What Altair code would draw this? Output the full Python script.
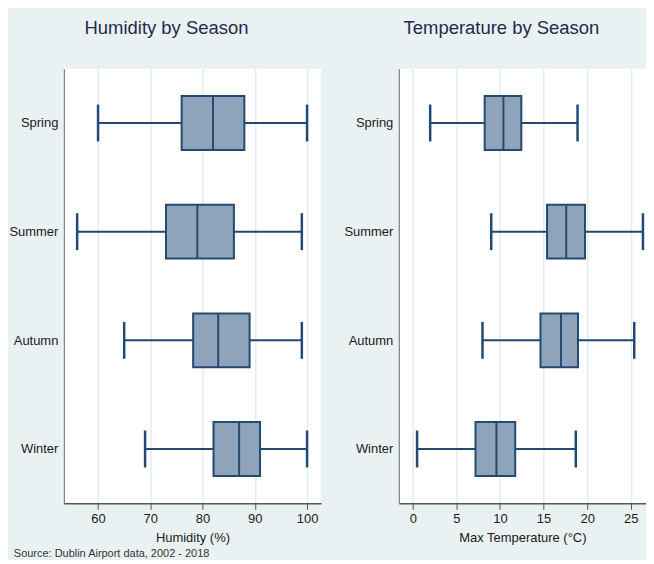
import altair as alt
import pandas as pd

seasons = ["Spring", "Summer", "Autumn", "Winter"]

hum_low = [60, 56, 65, 69]
hum_q1 = [76, 73, 78.2, 82.1]
hum_med = [82, 79, 83, 87]
hum_q3 = [88, 86, 89, 91]
hum_high = [100, 99, 99, 100]
hum_ticks = [60, 70, 80, 90, 100]

temp_low = [2, 9, 8, 0.5]
temp_q1 = [8.25, 15.4, 14.65, 7.2]
temp_med = [10.4, 17.6, 17.0, 9.6]
temp_q3 = [12.45, 19.75, 18.95, 11.75]
temp_high = [18.9, 26.4, 25.4, 18.7]
temp_ticks = [0, 5, 10, 15, 20, 25]

NAVY = "#234A72"
FILL = "#8FA4BA"
BG = "#EAF1F3"
FONT = "Liberation Sans"


def make_df(low, q1, med, q3, high):
    return pd.DataFrame({"season": seasons, "low": low, "q1": q1,
                         "med": med, "q3": q3, "high": high})


def panel(df, domain, ticks, xtitle, title, width, title_dx):
    y = alt.Y("season:N", sort=seasons,
              scale=alt.Scale(type="point", padding=0.5),
              axis=alt.Axis(title=None, ticks=False, labelPadding=6,
                            domainColor="#666666", domainWidth=1,
                            labelFontSize=13, labelColor="#1A1A1A",
                            labelFont=FONT, grid=False))
    xs = alt.Scale(domain=domain, nice=False, zero=False)
    xaxis = alt.Axis(values=ticks, title=xtitle, grid=True,
                     gridColor="#E3ECF1", gridWidth=1.5,
                     tickSize=6, tickColor="#555555", tickWidth=1,
                     domainColor="#555555", domainWidth=1.5,
                     labelFontSize=13, labelColor="#1A1A1A", labelFont=FONT,
                     labelPadding=3, titleFontSize=13, titleFont=FONT,
                     titleFontWeight="normal", titleColor="#1A1A1A",
                     titlePadding=6)
    base = alt.Chart(df)
    whisk = base.mark_rule(color=NAVY, strokeWidth=2).encode(
        x=alt.X("low:Q", scale=xs, axis=xaxis), x2="high:Q", y=y)
    box = base.mark_bar(size=54, fill=FILL, stroke=NAVY, strokeWidth=2,
                        opacity=1).encode(x="q1:Q", x2="q3:Q", y=y)
    med = base.mark_tick(size=54, thickness=2, color=NAVY, opacity=1).encode(
        x="med:Q", y=y)
    cap_lo = base.mark_tick(size=37, thickness=2.5, color=NAVY, opacity=1).encode(
        x="low:Q", y=y)
    cap_hi = base.mark_tick(size=37, thickness=2.5, color=NAVY, opacity=1).encode(
        x="high:Q", y=y)
    return alt.layer(whisk, box, med, cap_lo, cap_hi).properties(
        width=width, height=436,
        title=alt.TitleParams(title, fontSize=18.5, fontWeight="normal",
                              color="#1E2B4A", font=FONT, offset=31,
                              anchor="middle", dx=title_dx))


left = panel(make_df(hum_low, hum_q1, hum_med, hum_q3, hum_high),
             [53.45, 102.67], hum_ticks, "Humidity (%)",
             "Humidity by Season", 258, -26)
right = panel(make_df(temp_low, temp_q1, temp_med, temp_q3, temp_high),
              [-1.6, 26.75], temp_ticks, "Max Temperature (°C)",
              "Temperature by Season", 248, -21)

chart = alt.hconcat(left, right, spacing=22).properties(
    background=BG,
    padding={"top": 10, "left": 0, "right": 0, "bottom": 0},
    title=alt.TitleParams("Source: Dublin Airport data, 2002 - 2018",
                          orient="bottom", anchor="start", fontSize=11,
                          fontWeight="normal", color="#333333", font=FONT,
                          offset=4, dx=5),
).configure_view(stroke=None, fill="white")

chart.save("out.html", embed_options={"renderer": "svg", "actions": False})
